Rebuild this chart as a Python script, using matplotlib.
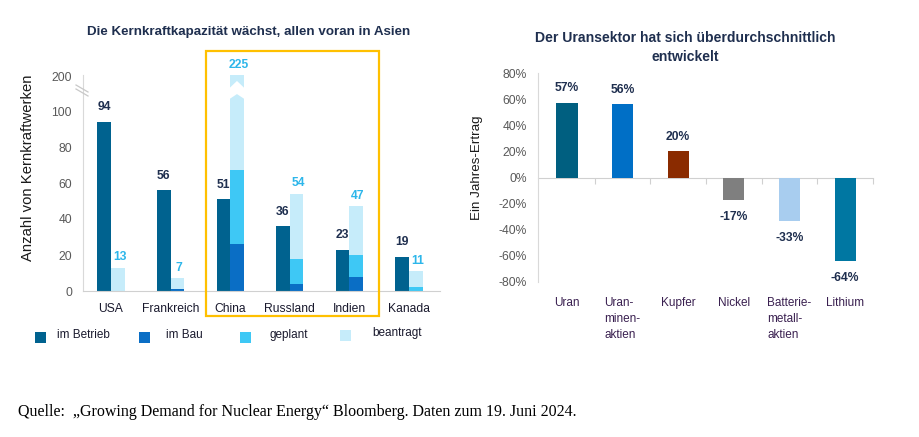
import matplotlib
matplotlib.use("Agg")
import matplotlib.pyplot as plt
from matplotlib import font_manager
from matplotlib.patches import Rectangle, Polygon
from matplotlib.lines import Line2D
from matplotlib.transforms import blended_transform_factory
import numpy as np

# ---------------- data ----------------
laender = ['USA', 'Frankreich', 'China', 'Russland', 'Indien', 'Kanada']
im_betrieb = [94, 56, 51, 36, 23, 19]
im_bau = [0, 1, 26, 4, 8, 0]
geplant = [0, 0, 41, 14, 12, 2]
beantragt = [13, 6, 158, 36, 27, 9]
links_yticks = [0, 20, 40, 60, 80, 100, 119.4]
links_yticklabels = ['0', '20', '40', '60', '80', '100', '200']
legende = ['im Betrieb', 'im Bau', 'geplant', 'beantragt']

sektoren = ['Uran', 'Uran-\nminen-\naktien', 'Kupfer', 'Nickel',
            'Batterie-\nmetall-\naktien', 'Lithium']
ertrag = [57, 56, 20, -17, -33, -64]
rechts_yticks = [-80, -60, -40, -20, 0, 20, 40, 60, 80]

titel_links = 'Die Kernkraftkapazität wächst, allen voran in Asien'
titel_rechts = 'Der Uransektor hat sich überdurchschnittlich\nentwickelt'
quelle = 'Quelle:  \u201eGrowing Demand for Nuclear Energy\u201c Bloomberg. Daten zum 19. Juni 2024.'

# ---------------- style ----------------
c_betrieb = '#00628f'
c_bau = '#0a6ec5'
c_geplant = '#3ec8f5'
c_beantragt = '#c6ecfa'
stack_colors = [c_bau, c_geplant, c_beantragt]
legend_colors = [c_betrieb, c_bau, c_geplant, c_beantragt]
sektor_colors = ['#005f80', '#006fc6', '#8a2b00', '#7f7f7f', '#a8cdef', '#0077a2']
navy = '#1f2f4f'
tick_gray = '#595959'
spine_gray = '#d9d9d9'

names = {f.name for f in font_manager.fontManager.ttflist}
narrow = 'Liberation Sans Narrow' in names
FONT = 'Liberation Sans Narrow' if narrow else 'Liberation Sans'
k = 1.0 if narrow else 0.85
plt.rcParams['font.family'] = [FONT, 'DejaVu Sans']

W, H = 919, 437
fig = plt.figure(figsize=(W / 100, H / 100), dpi=100)


def fx(x):
    return x / W


def fy(y):
    return 1 - y / H


# ---------------- left chart ----------------
ax1 = fig.add_axes([fx(83), fy(291), fx(440) - fx(83), fy(75) - fy(291)])
x = np.arange(len(laender))
bw = 0.227
b1 = ax1.bar(x - bw / 2, im_betrieb, bw, color=c_betrieb)
bottom = np.zeros(len(laender))
stack_bars = []
for vals, col in zip([im_bau, geplant, beantragt], stack_colors):
    bb = ax1.bar(x + bw / 2, vals, bw, bottom=bottom, color=col)
    stack_bars.append(bb)
    bottom = bottom + np.array(vals)
totals = bottom

ax1.set_xlim(-0.47, 5.52)
ax1.set_ylim(0, 120)

for xi, v in zip(x, im_betrieb):
    ax1.annotate(str(v), (xi - bw / 2, v), xytext=(0, 10.5), textcoords='offset points',
                 ha='center', va='center', fontsize=10.3 * k, fontweight='bold', color=navy)
top = ax1.get_ylim()[1]
for xi, t in zip(x, totals):
    ax1.annotate(str(int(t)), (xi + bw / 2 + 0.03, min(t, top)), xytext=(0, 7.5),
                 textcoords='offset points', ha='center', va='center',
                 fontsize=10.3 * k, fontweight='bold', color='#2db6ea', annotation_clip=False)

# axis break in the clipped China bar
rect = stack_bars[2][int(np.argmax(totals))]
x0, w = rect.get_x() - 0.01, rect.get_width() + 0.02
xc = rect.get_x() + rect.get_width() / 2
brk = Polygon([(x0, 112.8), (xc, 116.7), (x0 + w, 112.8), (x0 + w, 106.7), (xc, 109.4),
               (x0, 106.7)], closed=True, facecolor='white', edgecolor='none', zorder=5)
ax1.add_patch(brk)

ax1.set_yticks(links_yticks)
ax1.set_yticklabels(links_yticklabels)
ax1.set_xticks(x)
ax1.set_xticklabels(laender)
ax1.tick_params(axis='y', length=0, pad=8, labelsize=10.3 * k, labelcolor=tick_gray)
ax1.tick_params(axis='x', length=0, pad=9, labelsize=10.3 * k, labelcolor='#1a1a2e')
for s in ['top', 'right']:
    ax1.spines[s].set_visible(False)
ax1.spines['left'].set_color(spine_gray)
ax1.spines['bottom'].set_color('#d0d0d0')
ax1.set_ylabel('Anzahl von Kernkraftwerken', fontsize=12.6 * k, color='#1a1a1a')
ax1.yaxis.set_label_coords((35 - 83) / 357, 0.57)

# break marks on the y axis
for (xa, ya, xb, yb) in [(76, 85, 88, 92), (76, 89, 88, 96)]:
    fig.add_artist(Line2D([fx(xa), fx(xb)], [fy(ya), fy(yb)], color='#c8c8c8', lw=0.9))

# highlight box
fig.add_artist(Rectangle((fx(206), fy(316)), fx(379) - fx(206), fy(51) - fy(316),
                         fill=False, edgecolor='#ffc000', lw=1.6))

# legend
leg_pos = [(35, 57), (139, 166), (240, 269), (340, 372)]
leg_y = [337, 337, 337, 335]
for (sx, tx), yy, lab, col in zip(leg_pos, leg_y, legende, legend_colors):
    fig.add_artist(Rectangle((fx(sx), fy(yy + 5.5)), fx(11), 11 / H, facecolor=col,
                             edgecolor='none'))
    fig.text(fx(tx), fy(yy - 2), lab, ha='left', va='center', fontsize=10 * k,
             color='#1a1a2e')

fig.text(fx(249), fy(32), titel_links, ha='center', va='center', fontsize=11.35 * k,
         fontweight='bold', color=navy)

# ---------------- right chart ----------------
ax2 = fig.add_axes([fx(538), fy(282), fx(873) - fx(538), fy(73) - fy(282)])
xs = np.arange(len(sektoren))
ax2.bar(xs, ertrag, 0.38, color=sektor_colors, zorder=2)
ax2.set_xlim(-0.52, 5.5)
ax2.set_ylim(-80, 80)
ax2.set_yticks(rechts_yticks)
ax2.set_yticklabels([f'{v}%' for v in rechts_yticks])
ax2.tick_params(axis='y', length=0, pad=8, labelsize=10.3 * k, labelcolor=tick_gray)
ax2.set_xticks(np.arange(0.5, len(sektoren), 1.0))
ax2.set_xticklabels([])
ax2.tick_params(axis='x', length=4, color='#d0d0d0', direction='out')
for s in ['top', 'right']:
    ax2.spines[s].set_visible(False)
ax2.spines['left'].set_color(spine_gray)
ax2.spines['bottom'].set_color('#d0d0d0')
ax2.spines['bottom'].set_position(('data', 0))
ax2.spines['bottom'].set_zorder(1)

for xi, v in zip(xs, ertrag):
    off = 10.5 if v >= 0 else -12.5
    ax2.annotate(f'{v}%', (xi, v), xytext=(0, off), textcoords='offset points',
                 ha='center', va='center', fontsize=10.3 * k, fontweight='bold', color=navy)

tr = blended_transform_factory(ax2.transData, fig.transFigure)
for xi, lab in zip(xs, sektoren):
    ax2.text(xi, fy(297), lab, transform=tr, ha='center', va='top', multialignment='left',
             fontsize=10 * k, color='#3a2050', linespacing=1.45)

ax2.set_ylabel('Ein Jahres-Ertrag', fontsize=11.3 * k, color='#1a1a1a')
ax2.yaxis.set_label_coords((483 - 538) / 335, 0.545)

fig.text(fx(685), fy(47.5), titel_rechts, ha='center', va='center', fontsize=11.9 * k,
         fontweight='bold', color=navy, linespacing=1.4)

# source
fig.text(fx(18), fy(412), quelle, ha='left', va='center', fontsize=11.5,
         family='Liberation Serif', color='black')

fig.savefig('out.png', dpi=100, facecolor='white')
